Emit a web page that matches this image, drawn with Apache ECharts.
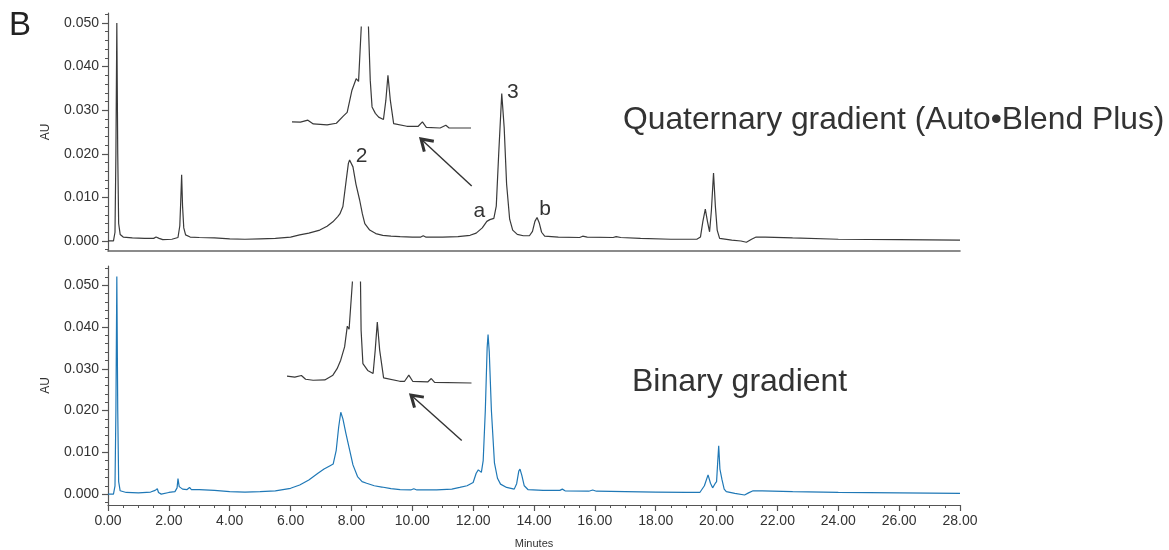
<!DOCTYPE html>
<html><head><meta charset="utf-8">
<script src="https://cdn.jsdelivr.net/npm/echarts@6/dist/echarts.min.js"></script>
<style>html,body{margin:0;padding:0;background:#fff}#c{width:1169px;height:550px}</style>
</head><body><div id="c"></div><script>
// ---------- data (minutes, AU) ----------
const quaternaryTrace = [[0,0],[0.18,0],[0.23,0.002],[0.26,0.02],[0.29,0.050],[0.32,0.02],[0.35,0.004],[0.4,0.0015],[0.5,0.0009],[0.8,0.0007],[1.2,0.0006],[1.5,0.0006],[1.58,0.0009],[1.63,0.0012],[1.68,0.0006],[1.8,0.0003],[2.1,0.0004],[2.3,0.0008],[2.36,0.0035],[2.39,0.009],[2.42,0.0152],[2.45,0.008],[2.49,0.003],[2.55,0.0014],[2.7,0.0009],[3.0,0.0008],[3.5,0.0007],[4.0,0.0005],[4.5,0.0004],[5.0,0.0005],[5.5,0.0006],[6.0,0.0009],[6.3,0.0014],[6.6,0.0018],[6.96,0.0025],[7.2,0.0034],[7.39,0.0044],[7.55,0.0056],[7.62,0.0062],[7.72,0.0079],[7.83,0.014],[7.9,0.0178],[7.94,0.0186],[8.05,0.017],[8.15,0.013],[8.27,0.0094],[8.36,0.0062],[8.44,0.004],[8.6,0.0025],[8.8,0.0017],[9.03,0.0013],[9.3,0.0011],[9.6,0.001],[10.0,0.0009],[10.28,0.0009],[10.36,0.0012],[10.44,0.0009],[11.0,0.0009],[11.5,0.001],[11.9,0.0013],[12.1,0.0018],[12.3,0.003],[12.45,0.0045],[12.55,0.0049],[12.68,0.0052],[12.76,0.008],[12.84,0.02],[12.94,0.0338],[13.02,0.026],[13.1,0.013],[13.2,0.005],[13.3,0.0025],[13.45,0.0015],[13.65,0.0012],[13.85,0.0012],[13.95,0.0022],[14.03,0.0045],[14.1,0.0054],[14.17,0.0042],[14.25,0.002],[14.35,0.0011],[14.8,0.0009],[15.5,0.0008],[15.6,0.0011],[15.66,0.0013],[15.75,0.0009],[16.6,0.0008],[16.7,0.001],[16.75,0.0011],[16.85,0.0008],[17.5,0.0006],[18.5,0.0004],[19.35,0.0004],[19.47,0.0009],[19.55,0.0045],[19.63,0.0073],[19.7,0.0045],[19.77,0.0021],[19.83,0.007],[19.9,0.0156],[19.96,0.008],[20.02,0.0025],[20.1,0.0006],[20.5,0.0002],[20.8,0.0],[20.98,-0.0003],[21.15,0.0004],[21.3,0.0009],[21.6,0.0009],[22.5,0.0007],[24,0.0004],[26,0.0003],[28,0.0002]];

const binaryTrace = [[0,0],[0.18,0],[0.23,0.002],[0.26,0.02],[0.29,0.0521],[0.32,0.02],[0.35,0.003],[0.4,0.0008],[0.6,0.0004],[1.0,0.0003],[1.4,0.0005],[1.55,0.0009],[1.62,0.0013],[1.66,0.0004],[1.75,0.0],[2.0,0.0004],[2.2,0.0006],[2.27,0.0015],[2.3,0.0037],[2.34,0.0018],[2.45,0.0012],[2.6,0.0011],[2.68,0.0016],[2.74,0.0011],[3.0,0.0011],[3.5,0.0009],[4.0,0.0006],[4.5,0.0005],[5.0,0.0006],[5.5,0.0008],[6.0,0.0014],[6.3,0.0022],[6.6,0.0034],[6.9,0.005],[7.1,0.006],[7.3,0.0068],[7.4,0.0072],[7.5,0.0105],[7.58,0.016],[7.65,0.0196],[7.72,0.018],[7.82,0.0145],[7.94,0.0106],[8.05,0.007],[8.2,0.0042],[8.35,0.003],[8.5,0.0026],[8.75,0.002],[9.0,0.0017],[9.3,0.0013],[9.6,0.0011],[9.95,0.001],[10.05,0.0013],[10.15,0.001],[10.8,0.001],[11.3,0.0012],[11.56,0.0016],[11.8,0.002],[12.0,0.0028],[12.1,0.005],[12.17,0.0058],[12.27,0.0052],[12.33,0.008],[12.4,0.02],[12.46,0.035],[12.49,0.0382],[12.53,0.034],[12.6,0.02],[12.7,0.0075],[12.8,0.0038],[12.9,0.0024],[13.1,0.0016],[13.35,0.0012],[13.43,0.0025],[13.5,0.0055],[13.54,0.006],[13.6,0.0045],[13.68,0.002],[13.8,0.0011],[14.3,0.0009],[14.85,0.0009],[14.93,0.0012],[15.02,0.0008],[15.8,0.0007],[15.93,0.001],[16.05,0.0007],[17,0.0006],[18,0.0005],[19,0.0004],[19.45,0.0004],[19.6,0.002],[19.72,0.0046],[19.8,0.0026],[19.87,0.0015],[19.95,0.0025],[20.0,0.003],[20.04,0.008],[20.07,0.0116],[20.11,0.006],[20.18,0.0034],[20.25,0.0012],[20.32,0.0006],[20.6,0.0002],[20.92,-0.0002],[21.05,0.0003],[21.2,0.0008],[21.5,0.0008],[22.5,0.0006],[24,0.0004],[26,0.0003],[28,0.0002]];

// magnified views of the peak-2 region (minutes, AU, clipped at the top)
const quaternaryInset = [[6.0,0.00021],[6.28,0.0002],[6.53,0.00026],[6.71,0.00015],[7.17,0.00012],[7.48,0.00017],[7.71,0.00038],[7.84,0.00049],[8.0,0.00114],[8.14,0.00148],[8.22,0.0014],[8.31,0.0030],[8.43,0.008],[8.55,0.0030],[8.61,0.00143],[8.67,0.00065],[8.78,0.00046],[8.89,0.00035],[9.05,0.00028],[9.13,0.00084],[9.2,0.00158],[9.28,0.00084],[9.39,0.00016],[9.83,0.00008],[10.21,0.00008],[10.35,0.00021],[10.48,0.00005],[10.94,0.00003],[11.13,0.00011],[11.24,0.00003],[11.97,0.00003]];

const binaryInset = [[6.0,0.00023],[6.26,0.0002],[6.48,0.00025],[6.62,0.00014],[6.87,0.00011],[7.26,0.00012],[7.53,0.00026],[7.67,0.00045],[7.79,0.0007],[7.92,0.00109],[8.01,0.0017],[8.07,0.00161],[8.18,0.0030],[8.31,0.008],[8.45,0.0030],[8.47,0.00158],[8.53,0.0006],[8.69,0.0004],[8.87,0.00031],[8.94,0.00099],[9.01,0.00182],[9.09,0.00099],[9.22,0.00018],[9.76,0.00008],[9.92,0.00008],[10.06,0.00026],[10.19,0.00008],[10.69,0.00006],[10.81,0.00016],[10.92,0.00005],[12.15,0.00003]];

const yTickValues = [0, 0.01, 0.02, 0.03, 0.04, 0.05];
const yMinorTicks = [-0.002,0,0.002,0.004,0.006,0.008,0.01,0.012,0.014,0.016,0.018,0.02,0.022,0.024,0.026,0.028,0.03,0.032,0.034,0.036,0.038,0.04,0.042,0.044,0.046,0.048,0.05,0.052,0.054];
const xTickValues = [0,2,4,6,8,10,12,14,16,18,20,22,24,26,28];
const xMinorTicks = [0,0.5,1,1.5,2,2.5,3,3.5,4,4.5,5,5.5,6,6.5,7,7.5,8,8.5,9,9.5,10,10.5,11,11.5,12,12.5,13,13.5,14,14.5,15,15.5,16,16.5,17,17.5,18,18.5,19,19.5,20,20.5,21,21.5,22,22.5,23,23.5,24,24.5,25,25.5,26,26.5,27,27.5,28];
const traceTitles = ['Quaternary gradient (Auto•Blend Plus)', 'Binary gradient'];
const peakLabels = [
  {text:'2', t:7.94, v:0.0186, dx:12, dy:-4},
  {text:'3', t:12.94, v:0.0338, dx:11, dy:-1},
  {text:'a', t:12.5, v:0.0048, dx:-9, dy:-9},
  {text:'b', t:14.1, v:0.0054, dx:8, dy:-8}
];

// ---------- chart ----------
const FONT = 'Liberation Sans, Arial, sans-serif';
const TXT = '#333';
const AX = '#555';
const chart = echarts.init(document.getElementById('c'), null, {renderer:'canvas'});

function majorY(grid, min, max) {
  return {gridIndex:grid, type:'value', min:min, max:max, position:'left',
    name:'AU', nameLocation:'middle', nameGap:56, nameRotate:90,
    nameTextStyle:{fontFamily:FONT, fontSize:12, color:TXT},
    axisLine:{show:true, onZero:false, lineStyle:{color:AX, width:1.2}},
    axisTick:{show:true, length:6, customValues:yTickValues, lineStyle:{color:AX, width:1.2}},
    axisLabel:{show:true, customValues:yTickValues, margin:9, formatter:v=>v.toFixed(3), fontFamily:FONT, fontSize:14, color:TXT},
    splitLine:{show:false}};
}
function minorY(grid, min, max) {
  return {gridIndex:grid, type:'value', min:min, max:max, position:'left',
    axisLine:{show:false, onZero:false}, axisLabel:{show:false}, splitLine:{show:false},
    axisTick:{show:true, length:3, customValues:yMinorTicks.filter(v=>v>=min&&v<=max), lineStyle:{color:AX, width:1}}};
}
function hidden(grid, min, max) {
  return {gridIndex:grid, type:'value', min:min, max:max, show:false};
}

const option = {
  animation:false,
  backgroundColor:'#fff',
  grid:[
    {left:108, top:13, width:852, height:238, containLabel:false, outerBoundsMode:'none'},
    {left:108, top:266, width:852, height:239, containLabel:false, outerBoundsMode:'none'},
    {left:292, top:27, width:179, height:102, containLabel:false, outerBoundsMode:'none'},
    {left:287, top:282, width:184.5, height:102, containLabel:false, outerBoundsMode:'none'}
  ],
  xAxis:[
    {gridIndex:0, type:'value', min:0, max:28, position:'bottom', axisLine:{show:true, onZero:false, lineStyle:{color:'#666', width:1.6}}, axisTick:{show:false}, axisLabel:{show:false}, splitLine:{show:false}},
    {gridIndex:1, type:'value', min:0, max:28, position:'bottom', name:'Minutes', nameLocation:'middle', nameGap:33,
      nameTextStyle:{fontFamily:FONT, fontSize:11, color:TXT},
      axisLine:{show:true, onZero:false, lineStyle:{color:AX, width:1.2}},
      axisTick:{show:true, length:6, customValues:xTickValues, lineStyle:{color:AX, width:1.2}},
      axisLabel:{show:true, customValues:xTickValues, margin:9, formatter:v=>v.toFixed(2), fontFamily:FONT, fontSize:14, color:TXT},
      splitLine:{show:false}},
    {gridIndex:1, type:'value', min:0, max:28, position:'bottom', axisLine:{show:false, onZero:false}, axisLabel:{show:false}, splitLine:{show:false},
      axisTick:{show:true, length:3, customValues:xMinorTicks, lineStyle:{color:AX, width:1}}},
    hidden(2, 6, 11.97),
    hidden(3, 6, 12.15)
  ],
  yAxis:[
    majorY(0, -0.0023, 0.0523),
    minorY(0, -0.0023, 0.0523),
    majorY(1, -0.0026, 0.0546),
    minorY(1, -0.0026, 0.0546),
    hidden(2, 0, 0.003),
    hidden(3, 0, 0.003)
  ],
  series:[
    {type:'line', xAxisIndex:0, yAxisIndex:0, data:quaternaryTrace, showSymbol:false, symbol:'none', clip:true, lineStyle:{color:'#3a3a3a', width:1.2}},
    {type:'line', xAxisIndex:1, yAxisIndex:2, data:binaryTrace, showSymbol:false, symbol:'none', clip:true, lineStyle:{color:'#1f78b6', width:1.2}},
    {type:'line', xAxisIndex:3, yAxisIndex:4, data:quaternaryInset, showSymbol:false, symbol:'none', clip:true, lineStyle:{color:'#3a3a3a', width:1.2}},
    {type:'line', xAxisIndex:4, yAxisIndex:5, data:binaryInset, showSymbol:false, symbol:'none', clip:true, lineStyle:{color:'#3a3a3a', width:1.2}}
  ]
};
chart.setOption(option);

// ---------- annotations ----------
const g = [];
g.push({type:'text', left:9, top:9, style:{text:'B', fontFamily:FONT, fontSize:33, fill:'#222'}});
g.push({type:'text', x:623, y:120, style:{text:traceTitles[0], fontFamily:FONT, fontSize:31.8, fill:TXT, textAlign:'left', textVerticalAlign:'middle'}});
g.push({type:'text', x:632, y:382, style:{text:traceTitles[1], fontFamily:FONT, fontSize:32, fill:TXT, textAlign:'left', textVerticalAlign:'middle'}});
peakLabels.forEach(p=>{
  const pt = chart.convertToPixel({xAxisIndex:0, yAxisIndex:0}, [p.t, p.v]);
  g.push({type:'text', x:pt[0]+p.dx, y:pt[1]+p.dy, style:{text:p.text, fontFamily:FONT, fontSize:21, fill:TXT, textAlign:'center', textVerticalAlign:'middle'}});
});
function arrow(tail, head) {
  const dx = head[0]-tail[0], dy = head[1]-tail[1];
  const L = Math.hypot(dx, dy), ux = dx/L, uy = dy/L, px = -uy, py = ux;
  const back = 11, wing = 7;
  const b = [head[0]-ux*back, head[1]-uy*back];
  g.push({type:'line', shape:{x1:tail[0], y1:tail[1], x2:head[0]-ux*1, y2:head[1]-uy*1}, style:{stroke:'#333', lineWidth:1.4}});
  g.push({type:'polyline', shape:{points:[[b[0]+px*wing, b[1]+py*wing],[head[0], head[1]],[b[0]-px*wing, b[1]-py*wing]]}, style:{stroke:'#333', lineWidth:3, fill:null, lineJoin:'miter'}});
}
arrow([471.7,186],[421,139]);
arrow([461.7,440.5],[411,395]);
chart.setOption({graphic:g});
</script></body></html>
